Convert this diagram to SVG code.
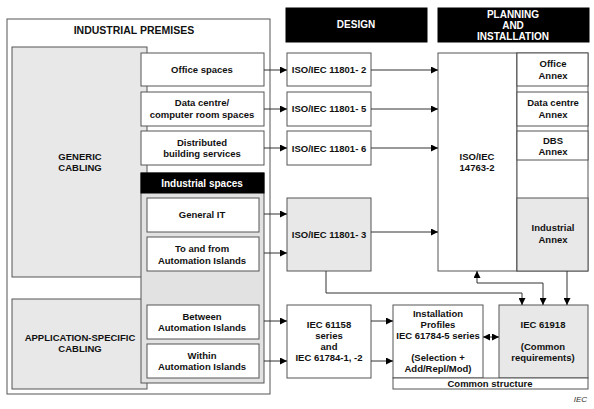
<svg xmlns="http://www.w3.org/2000/svg" width="594" height="409" viewBox="0 0 594 409">
<defs>
<style>
.b{fill:#fff;stroke:#555;stroke-width:1}
.g{fill:#e8e8e8;stroke:#555;stroke-width:1}
.k{fill:#000;stroke:#000}
.t{font-family:"Liberation Sans",Arial,sans-serif;font-weight:bold;font-size:9.5px;fill:#111;text-anchor:middle}
.h{font-family:"Liberation Sans",Arial,sans-serif;font-weight:bold;font-size:10px;fill:#fff;text-anchor:middle}
.c{fill:none;stroke:#333;stroke-width:1}
</style>
<marker id="a" viewBox="0 0 10 10" refX="10" refY="5" markerWidth="7" markerHeight="7" markerUnits="userSpaceOnUse" orient="auto-start-reverse">
<path d="M0,0L10,5L0,10z" fill="#000"/>
</marker>
</defs>
<rect width="594" height="409" fill="#fff"/>
<g id="premises">
<rect class="b" x="7" y="19" width="263" height="375"/>
<text class="t" x="134" y="34" style="font-size:10.5px">INDUSTRIAL  PREMISES</text>
</g>
<g id="generic">
<rect class="g" x="12" y="47" width="135" height="230"/>
<text class="t" x="80" y="160">GENERIC</text>
<text class="t" x="80" y="171">CABLING</text>
</g>
<g id="appspec">
<rect class="g" x="12" y="299" width="135" height="90"/>
<text class="t" x="80" y="341">APPLICATION-SPECIFIC</text>
<text class="t" x="80" y="352">CABLING</text>
</g>
<g id="office">
<rect class="b" x="141" y="53" width="123" height="33"/>
<text class="t" x="202" y="73">Office spaces</text>
</g>
<g id="datacentre">
<rect class="b" x="141" y="92" width="123" height="34"/>
<text class="t" x="202" y="106">Data centre/</text>
<text class="t" x="202" y="118">computer room spaces</text>
</g>
<g id="distributed">
<rect class="b" x="141" y="131" width="123" height="34"/>
<text class="t" x="202" y="146">Distributed</text>
<text class="t" x="202" y="157">building services</text>
</g>
<g id="industrial">
<rect class="g" x="141" y="173" width="123" height="210" style="fill:#e2e2e2"/>
<rect class="k" x="141" y="173" width="123" height="20"/>
<text class="h" x="202" y="187">Industrial spaces</text>
</g>
<g id="generalit">
<rect class="b" x="147" y="198" width="112" height="34"/>
<text class="t" x="202" y="218">General IT</text>
</g>
<g id="tofrom">
<rect class="b" x="147" y="237" width="112" height="34"/>
<text class="t" x="202" y="252">To and from</text>
<text class="t" x="202" y="264">Automation  Islands</text>
</g>
<g id="between">
<rect class="b" x="147" y="305" width="112" height="34"/>
<text class="t" x="202" y="320">Between</text>
<text class="t" x="202" y="331">Automation  Islands</text>
</g>
<g id="within">
<rect class="b" x="147" y="344" width="112" height="34"/>
<text class="t" x="202" y="359">Within</text>
<text class="t" x="202" y="370">Automation  Islands</text>
</g>
<g id="design">
<rect class="k" x="286" y="8" width="141" height="34"/>
<text class="h" x="356" y="28">DESIGN</text>
</g>
<g id="planning">
<rect class="k" x="438" y="8" width="151" height="34"/>
<text class="h" x="513" y="18">PLANNING</text>
<text class="h" x="513" y="29">AND</text>
<text class="h" x="513" y="40">INSTALLATION</text>
</g>
<g id="iso2">
<rect class="b" x="287" y="53" width="84" height="33"/>
<text class="t" x="329" y="73">ISO/IEC  11801- 2</text>
</g>
<g id="iso5">
<rect class="b" x="287" y="92" width="84" height="34"/>
<text class="t" x="329" y="112">ISO/IEC  11801- 5</text>
</g>
<g id="iso6">
<rect class="b" x="287" y="131" width="84" height="34"/>
<text class="t" x="329" y="152">ISO/IEC  11801- 6</text>
</g>
<g id="iso3">
<rect class="g" x="287" y="198" width="84" height="73"/>
<text class="t" x="329" y="238">ISO/IEC  11801- 3</text>
</g>
<g id="iso14763">
<rect class="b" x="438" y="53" width="79" height="218"/>
<text class="t" x="477" y="160">ISO/IEC</text>
<text class="t" x="477" y="171">14763-2</text>
</g>
<g id="annexcol">
<rect class="b" x="517" y="53" width="71" height="218"/>
</g>
<g id="officeannex">
<rect class="b" x="517" y="53" width="71" height="33"/>
<text class="t" x="553" y="67">Office</text>
<text class="t" x="553" y="79">Annex</text>
</g>
<g id="dcannex">
<rect class="b" x="517" y="92" width="71" height="34"/>
<text class="t" x="553" y="106">Data centre</text>
<text class="t" x="553" y="118">Annex</text>
</g>
<g id="dbsannex">
<rect class="b" x="517" y="131" width="71" height="29"/>
<text class="t" x="553" y="144">DBS</text>
<text class="t" x="553" y="155">Annex</text>
</g>
<g id="indannex">
<rect class="g" x="517" y="198" width="71" height="73"/>
<text class="t" x="553" y="231">Industrial</text>
<text class="t" x="553" y="243">Annex</text>
</g>
<g id="iec61158">
<rect class="b" x="287" y="305" width="84" height="73"/>
<text class="t" x="329" y="328">IEC  61158</text>
<text class="t" x="329" y="339">series</text>
<text class="t" x="329" y="350">and</text>
<text class="t" x="329" y="361">IEC 61784-1, -2</text>
</g>
<g id="profiles">
<rect class="b" x="393" y="305" width="90" height="73"/>
<text class="t" x="438" y="317">Installation</text>
<text class="t" x="438" y="328">Profiles</text>
<text class="t" x="438" y="339">IEC 61784-5 series</text>
<text class="t" x="438" y="361">(Selection +</text>
<text class="t" x="438" y="372">Add/Repl/Mod)</text>
</g>
<g id="iec61918">
<rect class="g" x="499" y="305" width="89" height="73"/>
<text class="t" x="543" y="328">IEC 61918</text>
<text class="t" x="543" y="350">(Common</text>
<text class="t" x="543" y="361">requirements)</text>
</g>
<g id="common">
<rect class="b" x="393" y="378" width="195" height="11"/>
<text class="t" x="490" y="387">Common structure</text>
</g>
<text x="587" y="402" style="font-family:'Liberation Sans',Arial,sans-serif;font-style:italic;font-size:8px;fill:#333;text-anchor:end">IEC</text>
<g id="connectors" class="c" marker-end="url(#a)">
<path d="M264,70H287"/>
<path d="M264,109H287"/>
<path d="M264,148H287"/>
<path d="M371,70H438"/>
<path d="M371,109H438"/>
<path d="M371,148H438"/>
<path d="M264,214H287"/>
<path d="M264,253H287"/>
<path d="M371,232H438"/>
<path d="M264,321H287"/>
<path d="M264,361H287"/>
<path d="M371,321H393"/>
<path d="M371,361H393"/>
<path d="M483,337H499" marker-start="url(#a)"/>
<path d="M326,271V293H522V305"/>
<path d="M477,271V283H543V305" marker-start="url(#a)"/>
<path d="M567,271V305"/>
</g>
</svg>
